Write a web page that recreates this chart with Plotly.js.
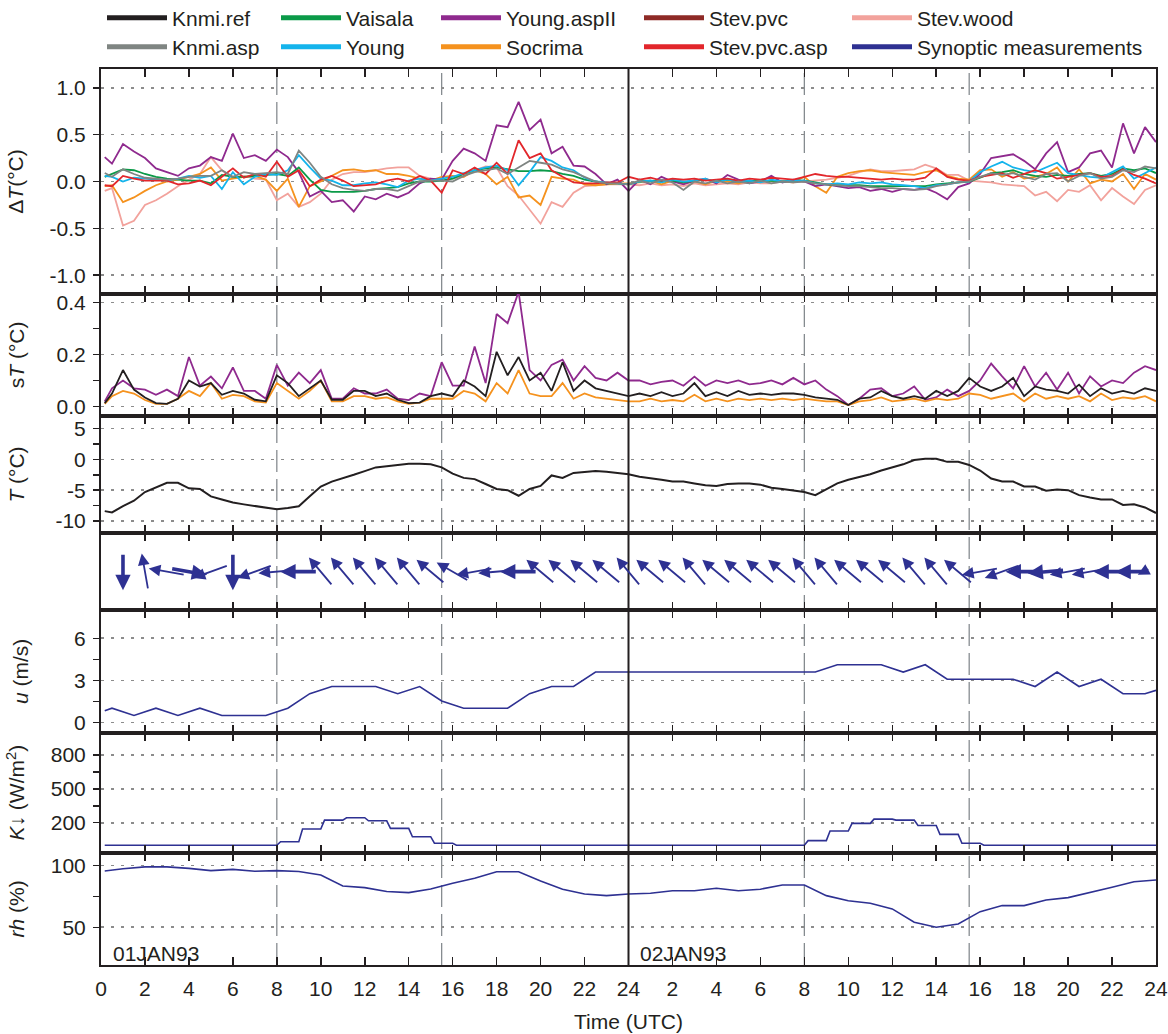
<!DOCTYPE html>
<html><head><meta charset="utf-8">
<script src="https://cdn.plot.ly/plotly-3.0.1.min.js"></script>
<style>html,body{margin:0;padding:0;background:#fff;} #chart{width:1168px;height:1034px;}</style>
</head><body><div id="chart"></div>
<script>
// ---------------- DATA ----------------
// time axis (hours since 01JAN93 00 UTC), 30-min samples
const hours = [0.17,0.5,1,1.5,2,2.5,3,3.5,4,4.5,5,5.5,6,6.5,7,7.5,8,8.5,9,9.5,10,10.5,11,11.5,12,12.5,13,13.5,14,14.5,15,15.5,16,16.5,17,17.5,18,18.5,19,19.5,20,20.5,21,21.5,22,22.5,23,23.5,24,
24.5,25,25.5,26,26.5,27,27.5,28,28.5,29,29.5,30,30.5,31,31.5,32,32.5,33,33.5,34,34.5,35,35.5,36,36.5,37,37.5,38,38.5,39,39.5,40,40.5,41,41.5,42,42.5,43,43.5,44,44.5,45,45.5,46,46.5,47,47.5,48];

// Delta T (deg C) relative to Knmi.ref
const dT_young_aspII = [0.26,0.19,0.40,0.32,0.25,0.14,0.10,0.06,0.14,0.17,0.26,0.22,0.51,0.25,0.28,0.22,0.34,0.26,0.10,-0.16,-0.10,-0.22,-0.20,-0.32,-0.16,-0.19,-0.13,-0.17,-0.12,-0.02,0.03,0.02,0.22,0.35,0.30,0.22,0.60,0.58,0.85,0.55,0.66,0.30,0.37,0.17,0.16,0.08,-0.03,0.02,-0.10,
0.02,-0.03,0.05,0.00,-0.03,0.01,0.03,-0.02,0.07,0.02,-0.02,0.00,0.06,-0.01,0.02,0.00,-0.05,-0.03,-0.05,-0.07,-0.06,-0.10,-0.08,-0.11,-0.08,-0.09,-0.07,-0.12,-0.19,-0.06,-0.02,0.08,0.25,0.27,0.29,0.22,0.13,0.30,0.42,0.10,0.15,0.30,0.33,0.15,0.62,0.30,0.58,0.42];
const dT_stev_wood = [-0.10,-0.07,-0.47,-0.42,-0.25,-0.20,-0.13,-0.05,0.02,0.08,0.26,0.12,0.04,0.06,0.03,0.02,-0.20,-0.13,-0.27,-0.22,-0.13,0.02,0.08,0.10,0.10,0.12,0.14,0.15,0.15,0.06,0.03,0.01,0.03,0.05,0.12,0.16,0.15,-0.05,-0.15,-0.30,-0.45,-0.22,-0.27,-0.12,-0.05,-0.04,-0.03,-0.03,-0.03,
-0.04,-0.02,-0.04,-0.03,-0.05,-0.02,-0.04,-0.03,-0.02,-0.03,-0.01,-0.02,-0.02,0.00,-0.01,0.00,0.01,0.02,0.04,0.06,0.10,0.13,0.11,0.11,0.12,0.13,0.18,0.14,0.07,0.07,0.01,0.00,-0.01,-0.03,-0.04,-0.05,-0.15,-0.11,-0.21,-0.09,-0.11,-0.04,-0.20,-0.07,-0.16,-0.24,-0.09,-0.04];
const dT_socrima = [-0.05,-0.04,-0.22,-0.17,-0.10,-0.04,0.00,0.02,0.05,0.08,0.15,0.01,0.03,0.05,0.06,0.02,-0.10,0.03,-0.27,-0.05,0.00,0.06,0.12,0.13,0.11,0.12,0.08,0.08,0.06,0.03,0.01,0.05,0.06,0.05,0.12,0.08,-0.03,0.05,-0.17,-0.15,-0.25,0.05,0.03,0.02,-0.03,-0.04,-0.03,-0.02,-0.02,
-0.01,0.01,-0.03,0.01,-0.02,0.00,-0.03,0.01,0.00,-0.02,0.01,0.00,0.01,0.00,-0.01,0.05,-0.05,-0.12,0.05,0.09,0.11,0.12,0.10,0.09,0.08,0.07,0.10,0.12,0.06,0.03,0.02,0.12,0.13,0.05,0.10,0.03,0.05,0.08,0.15,0.00,0.13,-0.02,0.02,0.00,0.08,-0.08,0.08,0.02];
const dT_stev_pvc_asp = [-0.04,-0.05,0.06,0.03,0.01,0.01,0.01,-0.03,-0.02,0.01,-0.04,0.05,0.14,0.04,0.08,0.05,0.21,0.05,0.12,-0.05,0.02,0.06,0.01,-0.05,-0.04,-0.03,0.01,0.03,0.00,0.06,0.01,-0.12,0.12,0.08,0.15,0.08,0.20,0.08,0.44,0.25,0.30,0.12,0.05,-0.01,-0.02,-0.02,-0.01,-0.01,0.05,
0.02,0.04,0.01,0.03,0.02,0.03,0.01,0.02,0.03,0.01,0.03,0.02,0.04,0.03,0.02,0.05,0.08,0.06,0.05,0.05,0.04,0.03,0.02,0.03,0.02,0.02,0.04,0.14,0.05,0.02,0.01,0.05,0.07,0.09,0.04,0.08,0.12,0.09,0.03,0.05,0.07,0.09,0.05,0.06,0.13,0.07,0.03,-0.02];
const dT_vaisala = [0.05,0.08,0.13,0.12,0.08,0.05,0.03,0.02,0.01,0.01,-0.02,0.07,0.05,0.05,0.06,0.07,0.08,0.06,0.15,0.02,-0.09,-0.11,-0.11,-0.11,-0.10,-0.08,-0.07,-0.06,-0.02,0.00,0.00,0.01,0.03,0.08,0.12,0.14,0.15,0.13,0.11,0.11,0.12,0.11,0.08,0.06,0.02,0.00,-0.02,-0.02,-0.03,
0.00,0.01,0.00,0.01,-0.01,0.01,0.02,0.00,0.02,0.00,0.01,0.00,0.01,0.00,0.01,0.01,-0.01,-0.03,-0.04,-0.04,-0.04,-0.05,-0.05,-0.05,-0.05,-0.05,-0.05,-0.03,-0.02,-0.01,0.00,0.04,0.09,0.10,0.12,0.08,0.06,0.05,0.07,0.06,0.08,0.09,0.06,0.08,0.14,0.12,0.14,0.09];
const dT_young = [0.06,0.05,0.00,0.04,0.03,0.02,0.01,0.03,0.06,0.04,0.06,-0.08,0.10,-0.03,0.05,0.08,0.07,0.12,0.28,0.15,0.03,0.01,-0.04,-0.04,-0.02,-0.01,-0.03,-0.06,0.01,0.03,0.01,0.03,0.05,0.09,0.12,0.15,0.17,0.12,-0.04,0.10,0.26,0.22,0.15,0.12,0.04,0.00,-0.01,-0.02,-0.03,
0.00,0.01,-0.01,0.02,0.00,0.01,0.03,-0.01,0.02,0.00,0.01,-0.01,0.02,0.00,0.01,0.01,-0.02,-0.03,-0.02,-0.03,-0.01,-0.02,-0.01,-0.03,-0.04,-0.05,-0.07,-0.04,-0.03,-0.01,0.00,0.10,0.16,0.21,0.15,0.12,0.10,0.15,0.20,0.09,0.07,0.05,0.04,0.10,0.16,0.03,0.09,0.15];
const dT_knmi_asp = [0.09,0.05,0.13,0.08,0.04,0.03,0.02,0.03,0.05,0.06,0.06,0.12,0.05,0.10,0.08,0.09,0.10,0.08,0.33,0.20,0.05,-0.03,-0.07,-0.09,-0.10,-0.08,-0.08,-0.10,-0.05,0.00,0.01,0.01,0.00,0.06,0.10,0.12,0.14,0.08,0.15,0.22,0.20,0.18,0.13,0.10,0.05,0.00,-0.02,-0.02,-0.03,
0.01,-0.02,0.02,-0.01,-0.09,0.00,-0.02,0.01,-0.02,0.00,-0.02,0.01,-0.02,0.00,-0.01,0.00,-0.02,-0.03,-0.04,-0.05,-0.05,-0.06,-0.07,-0.07,-0.08,-0.09,-0.08,-0.05,-0.03,-0.01,0.00,0.05,0.09,0.07,0.09,0.05,0.02,0.08,0.09,0.00,0.06,0.09,0.03,0.05,0.12,0.10,0.16,0.14];

// standard deviation sT (deg C)
const sT_young_aspII = [0.02,0.07,0.10,0.07,0.065,0.045,0.065,0.04,0.19,0.08,0.115,0.07,0.15,0.06,0.06,0.03,0.16,0.08,0.13,0.09,0.14,0.03,0.03,0.07,0.05,0.05,0.065,0.03,0.025,0.05,0.04,0.17,0.08,0.08,0.23,0.09,0.355,0.32,0.44,0.14,0.10,0.16,0.18,0.10,0.155,0.11,0.10,0.13,0.10,
0.10,0.085,0.095,0.10,0.08,0.115,0.08,0.10,0.09,0.10,0.085,0.09,0.10,0.085,0.11,0.085,0.10,0.065,0.04,0.006,0.03,0.065,0.07,0.04,0.05,0.077,0.026,0.035,0.065,0.04,0.06,0.10,0.165,0.116,0.07,0.155,0.077,0.13,0.065,0.13,0.05,0.116,0.077,0.10,0.09,0.13,0.155,0.14];
const sT_knmi_ref = [0.013,0.05,0.14,0.065,0.035,0.013,0.01,0.03,0.10,0.077,0.09,0.045,0.06,0.05,0.026,0.02,0.12,0.09,0.04,0.07,0.10,0.026,0.026,0.06,0.06,0.04,0.05,0.026,0.013,0.015,0.04,0.05,0.04,0.10,0.077,0.04,0.21,0.12,0.19,0.10,0.13,0.06,0.17,0.06,0.10,0.07,0.06,0.05,0.04,
0.05,0.04,0.055,0.04,0.05,0.09,0.04,0.055,0.04,0.06,0.045,0.05,0.045,0.05,0.05,0.045,0.035,0.03,0.026,0.006,0.03,0.035,0.06,0.04,0.03,0.04,0.03,0.06,0.04,0.06,0.11,0.077,0.06,0.077,0.11,0.04,0.077,0.065,0.06,0.05,0.084,0.04,0.07,0.05,0.06,0.05,0.07,0.06];
const sT_socrima = [0.01,0.04,0.06,0.05,0.025,0.01,0.01,0.03,0.06,0.04,0.09,0.03,0.045,0.04,0.02,0.015,0.09,0.06,0.03,0.06,0.10,0.02,0.02,0.04,0.04,0.03,0.035,0.02,0.01,0.015,0.03,0.03,0.03,0.06,0.05,0.02,0.09,0.05,0.14,0.05,0.04,0.04,0.09,0.03,0.05,0.035,0.03,0.025,0.02,
0.02,0.03,0.02,0.025,0.02,0.045,0.02,0.03,0.02,0.03,0.025,0.03,0.025,0.03,0.025,0.03,0.025,0.02,0.02,0.006,0.02,0.025,0.035,0.02,0.025,0.03,0.02,0.03,0.025,0.03,0.05,0.045,0.03,0.04,0.05,0.02,0.05,0.03,0.04,0.03,0.04,0.02,0.05,0.025,0.035,0.03,0.04,0.02];

// temperature T (deg C), Knmi.ref
const T_knmi_ref = [-8.4,-8.6,-7.6,-6.7,-5.3,-4.5,-3.8,-3.8,-4.7,-4.8,-6.0,-6.5,-7.0,-7.3,-7.6,-7.9,-8.1,-7.9,-7.6,-6.0,-4.4,-3.6,-3.1,-2.5,-1.9,-1.3,-1.1,-0.9,-0.7,-0.7,-0.8,-1.3,-2.3,-3.0,-3.2,-4.0,-4.8,-5.0,-5.9,-4.8,-4.3,-2.6,-3.0,-2.2,-2.1,-1.9,-2.0,-2.2,-2.4,
-2.8,-3.0,-3.3,-3.6,-3.6,-3.9,-4.2,-4.3,-4.0,-3.9,-3.9,-4.1,-4.6,-4.8,-5.1,-5.3,-5.8,-4.9,-3.9,-3.3,-2.9,-2.4,-1.8,-1.3,-0.8,-0.1,0.1,0.1,-0.4,-0.4,-0.9,-1.8,-3.1,-3.6,-3.6,-4.4,-4.4,-5.1,-4.9,-5.0,-5.8,-6.2,-6.5,-6.5,-7.4,-7.3,-7.8,-8.7];

// synoptic wind direction (deg, direction the wind blows from), hourly
const wind_hours = [1,2,3,4,5,6,7,8,9,10,11,12,13,14,15,16,17,18,19,20,21,22,23,24,25,26,27,28,29,30,31,32,33,34,35,36,37,38,39,40,41,42,43,44,45,46,47,48];
const wind_dir = [0,170,100,280,70,0,70,85,90,140,140,140,140,140,130,120,80,85,90,130,130,130,130,140,130,130,140,130,130,130,130,140,140,130,130,130,140,140,130,80,70,90,85,80,80,90,90,80];
const wind_bold_hours = [1,4,6,9,19,42,43,46,47];

// synoptic wind speed u (m/s)
const u_hours = [0.17,0.5,1.5,2.5,3.5,4.5,5.5,6.5,7.5,8.5,9.5,10.5,11.5,12.5,13.5,14.5,15.5,16.5,17.5,18.5,19.5,20.5,21.5,22.5,23.5,24.5,25.5,26.5,27.5,28.5,29.5,30.5,31.5,32.5,33.5,34.5,35.5,36.5,37.5,38.5,39.5,40.5,41.5,42.5,43.5,44.5,45.5,46.5,47.5,48];
const u_speed = [0.84,1.03,0.51,1.03,0.51,1.03,0.51,0.51,0.51,1.03,2.06,2.57,2.57,2.57,2.06,2.57,1.54,1.03,1.03,1.03,2.06,2.57,2.57,3.6,3.6,3.6,3.6,3.6,3.6,3.6,3.6,3.6,3.6,3.6,4.12,4.12,4.12,3.6,4.12,3.09,3.09,3.09,3.09,2.57,3.6,2.57,3.09,2.06,2.06,2.3];

// incoming shortwave radiation K (W/m2), hourly means for hour i..i+1
const K_hourly = [0,0,0,0,0,0,0,0,32,144,223,244,217,150,76,18,0,0,0,0,0,0,0,0,
0,0,0,0,0,0,0,0,41,126,194,232,223,176,97,18,0,0,0,0,0,0,0,0];

// relative humidity (%)
const rh_hours = [0.17,1,2,3,4,5,6,7,8,9,10,11,12,13,14,15,16,17,18,19,20,21,22,23,24,25,26,27,28,29,30,31,32,33,34,35,36,37,38,39,40,41,42,43,44,45,46,47,48];
const rh_values = [95.7,97.5,99,99,97.8,96,97,95.5,96,95.3,92.5,83.5,82.2,79,78.1,81,85.7,89.8,95.1,95.1,87.6,80.9,77,75.7,77,77.6,79.7,79.7,81.7,79.7,80.9,84.3,84.3,75.7,71.6,69.5,64.9,54.1,50,52.7,62.7,67.6,67.6,72.2,74.1,78.1,82.5,87,88.4];

// x tick labels
const x_tick_vals = [0,2,4,6,8,10,12,14,16,18,20,22,24,26,28,30,32,34,36,38,40,42,44,46,48];
const x_tick_text = ['0','2','4','6','8','10','12','14','16','18','20','22','24','2','4','6','8','10','12','14','16','18','20','22','24'];
const sun_lines = [8,15.5,32,39.5];
const day_line = 24;
const day_labels = ['01JAN93','02JAN93'];
const day_label_hours = [0.45,24.45];

// ---------------- STYLE ----------------
const FONT = 'Liberation Sans, Arial, Helvetica, sans-serif';
const FS = 21;
const INK = '#231f20';
const C = {
  knmi_ref:'#231f20', knmi_asp:'#7f8582', vaisala:'#0b9a48', young:'#14b4ec',
  young_aspII:'#8f2a8e', socrima:'#f5921e', stev_pvc:'#8e2a26', stev_pvc_asp:'#e2262b',
  stev_wood:'#f2a29c', synop:'#2e3192'
};

const traces = [];
function line(x, y, color, width, xa, ya) {
  traces.push({x:x, y:y, type:'scatter', mode:'lines', line:{color:color, width:width}, xaxis:xa, yaxis:ya, showlegend:false, hoverinfo:'skip'});
}
// Panel 1 ΔT
line(hours, dT_stev_wood, C.stev_wood, 1.8, 'x', 'y');
line(hours, dT_socrima, C.socrima, 1.8, 'x', 'y');
line(hours, dT_young_aspII, C.young_aspII, 1.8, 'x', 'y');
line(hours, dT_vaisala, C.vaisala, 1.8, 'x', 'y');
line(hours, dT_young, C.young, 1.8, 'x', 'y');
line(hours, dT_stev_pvc_asp, C.stev_pvc_asp, 1.8, 'x', 'y');
line(hours, dT_knmi_asp, C.knmi_asp, 1.8, 'x', 'y');
// Panel 2 sT
line(hours, sT_young_aspII, C.young_aspII, 1.8, 'x2', 'y2');
line(hours, sT_socrima, C.socrima, 1.8, 'x2', 'y2');
line(hours, sT_knmi_ref, C.knmi_ref, 1.8, 'x2', 'y2');
// Panel 3 T
line(hours, T_knmi_ref, C.knmi_ref, 2, 'x3', 'y3');
// Panel 5 u
line(u_hours, u_speed, C.synop, 1.6, 'x5', 'y5');
// Panel 6 K (hourly step values)
const Kx = [], Ky = [];
K_hourly.forEach((v, i) => { Kx.push(i + 0.17, i + 1); Ky.push(v, v); });
line(Kx, Ky, C.synop, 1.6, 'x6', 'y6');
// Panel 7 rh
line(rh_hours, rh_values, C.synop, 1.6, 'x7', 'y7');

// legend entries (one legend per entry for exact placement)
const legendItems = [
  ['Knmi.ref', C.knmi_ref], ['Knmi.asp', C.knmi_asp],
  ['Vaisala', C.vaisala], ['Young', C.young],
  ['Young.aspII', C.young_aspII], ['Socrima', C.socrima],
  ['Stev.pvc', C.stev_pvc], ['Stev.pvc.asp', C.stev_pvc_asp],
  ['Stev.wood', C.stev_wood], ['Synoptic measurements', C.synop]
];
const colLeftPx = [102, 276, 436, 639, 847];
const rowYPx = [18, 47];
const layoutLegends = {};
legendItems.forEach((it, i) => {
  const key = i === 0 ? 'legend' : 'legend' + (i + 1);
  traces.push({x:[null], y:[null], type:'scatter', mode:'lines', name:it[0], line:{color:it[1], width:5},
    xaxis:'x', yaxis:'y', showlegend:true, legend:key, hoverinfo:'skip'});
  const col = Math.floor(i / 2), row = i % 2;
  layoutLegends[key] = {
    x:(colLeftPx[col] - 101) / 1055, xanchor:'left',
    y:(965 - rowYPx[row]) / 896, yanchor:'middle',
    bgcolor:'rgba(0,0,0,0)', borderwidth:0, itemwidth:60,
    font:{family:FONT, size:FS, color:INK}
  };
});

// ---------------- LAYOUT ----------------
const domains = {
  y:[0.7489, 1], y2:[0.6131, 0.7489], y3:[0.4818, 0.6131], y4:[0.3962, 0.4818],
  y5:[0.2593, 0.3962], y6:[0.1253, 0.2593], y7:[0, 0.1253]
};
const tickFont = {family:FONT, size:FS, color:INK};
const titleFont = {family:FONT, size:FS, color:INK};

function xax(anchor, labels) {
  const a = {
    domain:[0,1], anchor:anchor, range:[0,48], tickmode:'array', tickvals:x_tick_vals, ticktext:x_tick_text,
    ticks:'inside', ticklen:8, tickwidth:1.5, tickcolor:INK,
    showline:true, linewidth:2, linecolor:INK, mirror:'ticks',
    showgrid:false, zeroline:false, showticklabels:labels, tickfont:tickFont, fixedrange:true
  };
  if (labels) {
    a.ticklabelstandoff = 4;
    a.title = {text:'Time (UTC)', font:titleFont, standoff:15};
  }
  return a;
}
function yax(dom, anchor, range, opts) {
  return Object.assign({
    domain:dom, anchor:anchor, range:range,
    ticks:'outside', ticklen:6, tickwidth:1.5, tickcolor:INK,
    showline:true, linewidth:2, linecolor:INK, mirror:true,
    showgrid:true, gridcolor:'#8c8c8c', gridwidth:1.6, griddash:'3px,7px',
    zeroline:false, tickfont:tickFont, fixedrange:true, ticklabelstandoff:3
  }, opts);
}
function minorTicks(vals) {
  return {tickmode:'array', tickvals:vals, ticks:'outside', ticklen:6, tickcolor:INK, showgrid:false};
}

const layout = Object.assign({
  width:1168, height:1034,
  margin:{l:101, r:12, t:69, b:69, autoexpand:false},
  paper_bgcolor:'#ffffff', plot_bgcolor:'#ffffff',
  font:{family:FONT, size:FS, color:INK},
  hovermode:false,
  xaxis:xax('y', false), xaxis2:xax('y2', false), xaxis3:xax('y3', false), xaxis4:xax('y4', false),
  xaxis5:xax('y5', false), xaxis6:xax('y6', false), xaxis7:xax('y7', true),
  yaxis:yax(domains.y, 'x', [-1.2, 1.2], {tickmode:'array', tickvals:[-1,-0.5,0,0.5,1], ticktext:['-1.0','-0.5','0.0','0.5','1.0'],
    title:{text:'Δ<i>T</i>(°C)', font:titleFont, standoff:20}}),
  yaxis2:yax(domains.y2, 'x2', [-0.035, 0.432], {tickmode:'array', tickvals:[0,0.2,0.4], ticktext:['0.0','0.2','0.4'],
    minor:minorTicks([0.1,0.3]),
    title:{text:'s<i>T</i> (°C)', font:titleFont, standoff:26}}),
  yaxis3:yax(domains.y3, 'x3', [-12, 7.1], {tickmode:'array', tickvals:[-10,-5,0,5], ticktext:['-10','-5','0','5'],
    minor:minorTicks([-7.5,-2.5,2.5]),
    title:{text:'<i>T</i> (°C)', font:titleFont, standoff:25}}),
  yaxis4:yax(domains.y4, 'x4', [-1, 1], {ticks:'', showticklabels:false, showgrid:false}),
  yaxis5:yax(domains.y5, 'x5', [-0.71, 8.01], {tickmode:'array', tickvals:[0,3,6], ticktext:['0','3','6'],
    minor:minorTicks([1.5,4.5]),
    title:{text:'<i>u</i> (m/s)', font:titleFont, standoff:40}}),
  yaxis6:yax(domains.y6, 'x6', [-66, 998], {tickmode:'array', tickvals:[200,500,800], ticktext:['200','500','800'],
    minor:minorTicks([350,650]),
    title:{text:'<i>K</i>↓ (W/m<sup>2</sup>)', font:titleFont, standoff:20}}),
  yaxis7:yax(domains.y7, 'x7', [19.4, 110.5], {tickmode:'array', tickvals:[50,100], ticktext:['50','100'],
    minor:minorTicks([75]),
    title:{text:'<i>rh</i> (%)', font:titleFont, standoff:20}})
}, layoutLegends);

// vertical reference lines
const shapes = [];
sun_lines.forEach(h => shapes.push({type:'line', xref:'x', yref:'paper', x0:h, x1:h, y0:0, y1:1,
  line:{color:'#7d8388', width:1.2, dash:'22px,7px'}, layer:'below'}));
shapes.push({type:'line', xref:'x', yref:'paper', x0:day_line, x1:day_line, y0:0, y1:1,
  line:{color:INK, width:2}, layer:'above'});
layout.shapes = shapes;

// annotations: date labels + wind arrows
const ann = [];
day_labels.forEach((t, i) => ann.push({xref:'x7', yref:'y7', x:day_label_hours[i], y:29, xanchor:'left', yanchor:'middle',
  text:t, showarrow:false, font:{family:FONT, size:FS, color:INK}}));
const ARROW_LEN = 37;
wind_hours.forEach((h, i) => {
  const b = (wind_dir[i] + 180) * Math.PI / 180;   // direction the wind blows toward
  const ux = Math.sin(b), uy = -Math.cos(b);       // screen unit vector (y down)
  const bold = wind_bold_hours.indexOf(h) >= 0;
  ann.push({xref:'x4', yref:'y4', x:h, y:0,
    xshift:ARROW_LEN / 2 * ux, yshift:-ARROW_LEN / 2 * uy,
    axref:'pixel', ayref:'pixel', ax:-ARROW_LEN * ux, ay:-ARROW_LEN * uy,
    showarrow:true, text:'', arrowhead:2, arrowsize:bold ? 0.85 : 1.3, arrowwidth:bold ? 3.6 : 1.8,
    arrowcolor:C.synop, standoff:0});
});
layout.annotations = ann;

Plotly.newPlot('chart', traces, layout, {staticPlot:true, displayModeBar:false});
</script></body></html>
